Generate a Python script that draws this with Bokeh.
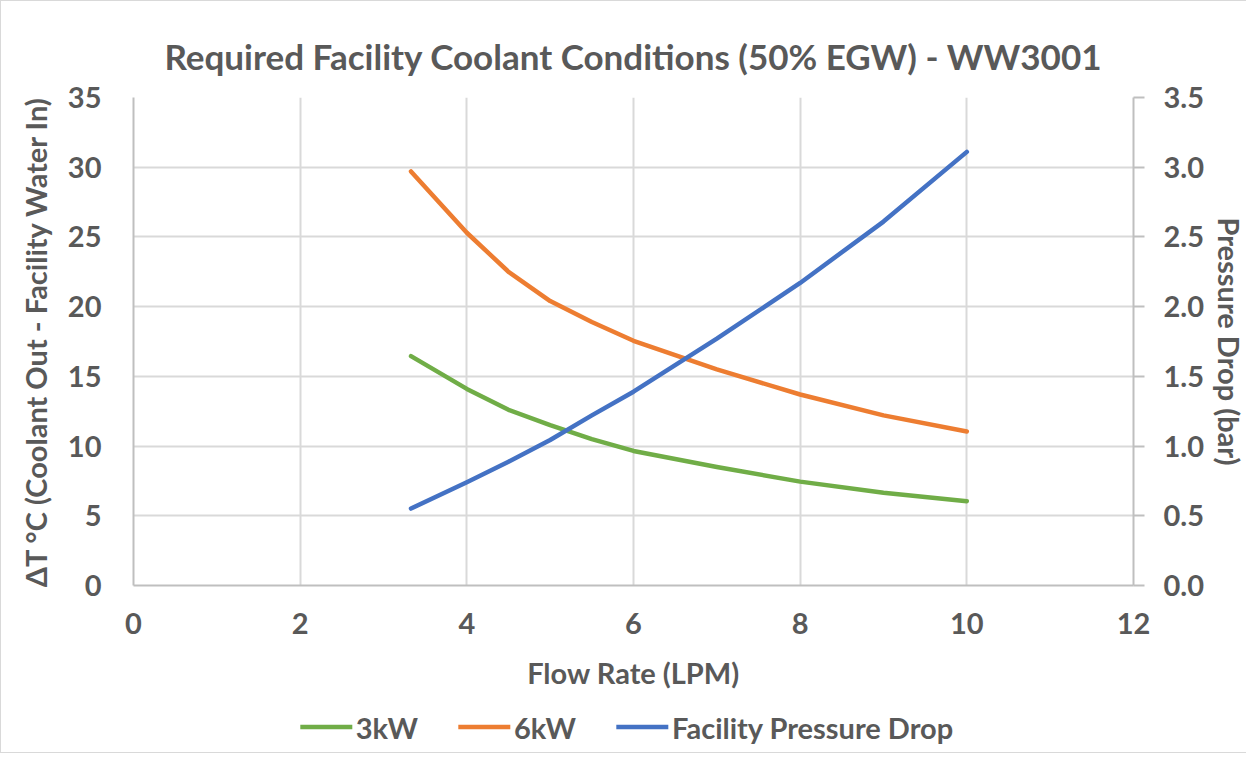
from bokeh.plotting import figure
from bokeh.layouts import column
from bokeh.models import Range1d, LinearAxis, Legend, LegendItem, FixedTicker, NumeralTickFormatter
from bokeh.embed import file_html
from bokeh.resources import INLINE

title_text = "Required Facility Coolant Conditions (50% EGW) - WW3001"
x_label = "Flow Rate (LPM)"
y_left_label = "\u0394T \u00b0C (Coolant Out - Facility Water In)"
y_right_label = "Pressure Drop (bar)"
series_names = ["3kW", "6kW", "Facility Pressure Drop"]

flow = [3.33, 4.0, 4.5, 5.0, 5.5, 6.0, 7.0, 8.0, 9.0, 10.0]
dt_3kw = [16.45, 14.1, 12.6, 11.5, 10.5, 9.65, 8.5, 7.45, 6.65, 6.05]
dt_6kw = [29.7, 25.3, 22.5, 20.4, 18.9, 17.55, 15.5, 13.7, 12.2, 11.05]
pressure = [0.552, 0.74, 0.888, 1.044, 1.22, 1.39, 1.77, 2.17, 2.61, 3.11]

x_ticks = [0, 2, 4, 6, 8, 10, 12]
y_left_ticks = [0, 5, 10, 15, 20, 25, 30, 35]
y_right_ticks = [0.0, 0.5, 1.0, 1.5, 2.0, 2.5, 3.0, 3.5]

GREEN = "#70AD47"
ORANGE = "#ED7D31"
BLUE = "#4472C4"
COLORS = [GREEN, ORANGE, BLUE]
TEXT = "#595959"
GRID = "#D9D9D9"
AXIS = "#BFBFBF"
FONT = "Lato"
FS = "29px"
LW = 4.5

p = figure(frame_width=1000, frame_height=488, output_backend="svg", toolbar_location=None,
           x_range=Range1d(0, 12), y_range=Range1d(0, 35))
p.min_border_left = 132
p.min_border_right = 104
p.min_border_top = 96
p.min_border_bottom = 116
p.outline_line_color = None

p.title.text = title_text
p.title.text_font = FONT
p.title.text_font_size = "35px"
p.title.text_color = TEXT
p.title.align = "center"
p.title.text_font_style = "bold"
p.title.standoff = 41

p.extra_y_ranges = {"pd": Range1d(0, 3.5)}

# grid
p.xgrid.ticker = FixedTicker(ticks=x_ticks)
p.ygrid.ticker = FixedTicker(ticks=y_left_ticks)
for g in (p.xgrid, p.ygrid):
    g.grid_line_color = GRID
    g.grid_line_width = 2

# axes
xa = p.xaxis[0]
xa.ticker = FixedTicker(ticks=x_ticks)
xa.axis_label = x_label
ya = p.yaxis[0]
ya.ticker = FixedTicker(ticks=y_left_ticks)
ya.axis_label = y_left_label
yr = LinearAxis(y_range_name="pd", axis_label=y_right_label,
                ticker=FixedTicker(ticks=y_right_ticks),
                formatter=NumeralTickFormatter(format="0.0"))
p.add_layout(yr, "right")

for ax in (xa, ya, yr):
    ax.axis_line_color = AXIS
    ax.axis_line_width = 2
    ax.major_tick_line_color = None
    ax.minor_tick_line_color = None
    ax.major_label_text_font = FONT
    ax.major_label_text_font_size = FS
    ax.major_label_text_color = TEXT
    ax.major_label_text_font_style = "bold"
    ax.axis_label_text_font = FONT
    ax.axis_label_text_font_size = FS
    ax.axis_label_text_color = TEXT
    ax.axis_label_text_font_style = "bold"

yr.major_tick_line_color = AXIS
yr.major_tick_line_width = 2
yr.major_tick_out = 11
yr.major_tick_in = 0
yr.major_label_standoff = 19
yr.axis_label_standoff = 5
ya.major_label_standoff = 26
ya.axis_label_standoff = 12
xa.major_label_standoff = 21
xa.axis_label_standoff = 18

p.line(flow, dt_3kw, line_color=GREEN, line_width=LW, line_join="round", line_cap="round")
p.line(flow, dt_6kw, line_color=ORANGE, line_width=LW, line_join="round", line_cap="round")
p.line(flow, pressure, y_range_name="pd", line_color=BLUE, line_width=LW,
       line_join="round", line_cap="round")

# legend strip below the chart (its renderers hold no visible data)
pl = figure(width=p.frame_width + 132 + 104, height=51, output_backend="svg",
            toolbar_location=None, x_range=Range1d(0, 1), y_range=Range1d(0, 1),
            min_border=0)
pl.axis.visible = False
pl.grid.visible = False
pl.outline_line_color = None
items = []
for name, col in zip(series_names, COLORS):
    r = pl.line(x=[float("nan")], y=[float("nan")], line_color=col, line_width=LW,
                line_cap="round")
    items.append(LegendItem(label=name, renderers=[r]))
legend = Legend(items=items, orientation="horizontal", location="center")
legend.label_text_font = FONT
legend.label_text_font_size = FS
legend.label_text_color = TEXT
legend.label_text_font_style = "bold"
legend.glyph_width = 52
legend.glyph_height = 20
legend.label_standoff = 4
legend.spacing = 40
legend.padding = 0
legend.margin = 0
legend.border_line_color = None
legend.background_fill_alpha = 0
pl.add_layout(legend, "center")

layout = column(p, pl, spacing=0, styles={"border": "1px solid #D9D9D9"})

open("out.html", "w").write(file_html(layout, INLINE))
